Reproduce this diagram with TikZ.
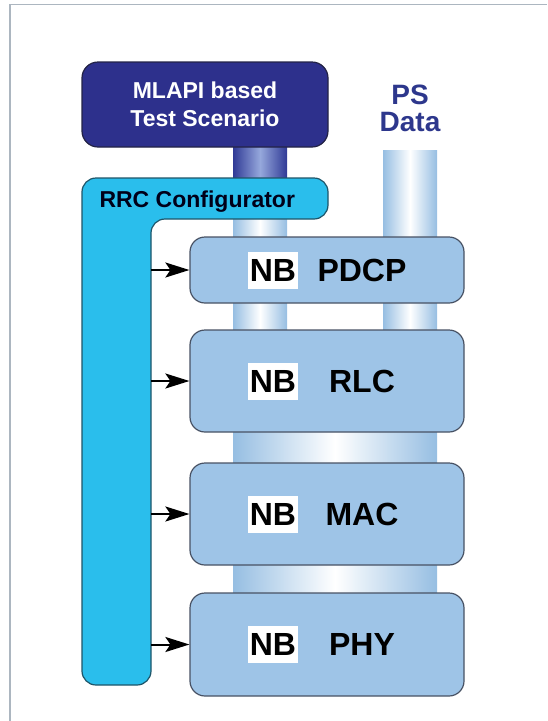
\documentclass[tikz,border=0pt]{standalone}
\usepackage{fontspec}
\setmainfont{Liberation Sans}
\usetikzlibrary{arrows.meta,positioning}

\definecolor{mlnavy}{RGB}{45,48,140}
\definecolor{mledge}{RGB}{35,35,70}
\definecolor{rrccyan}{RGB}{42,190,236}
\definecolor{rrcedge}{RGB}{30,85,105}
\definecolor{layerblue}{RGB}{158,196,231}
\definecolor{layeredge}{RGB}{72,82,100}
\definecolor{tubeblue}{RGB}{150,190,226}
\definecolor{tubenavy}{RGB}{48,58,150}
\definecolor{tubemid}{RGB}{150,168,220}
\definecolor{psblue}{RGB}{45,55,140}
\definecolor{framegray}{RGB}{172,182,192}

\begin{document}
\begin{tikzpicture}[x=1pt, y=-1pt,
  every node/.style={font=\bfseries},
  layer/.style={draw=layeredge, line width=1.2pt, fill=layerblue, rounded corners=15pt, minimum width=274pt},
  nbtag/.style={fill=white, inner xsep=2pt, minimum height=37pt, font=\bfseries\fontsize{32}{36}\selectfont},
  lbl/.style={font=\bfseries\fontsize{32}{36}\selectfont},
  tube/.style={left color=tubeblue, right color=tubeblue, middle color=white},
  conf/.style={-{Stealth[length=24pt,width=15pt,inset=5pt]}, line width=2pt}]
  \useasboundingbox (0,0) rectangle (547,721);
  \draw[framegray, line width=1.8pt] (10,721) -- (10,4.5) -- (547,4.5);
  % data pipes behind the stack
  \shade[left color=tubenavy, right color=tubenavy, middle color=tubemid] (233,140) rectangle (287,185);
  \shade[tube] (233,200) rectangle (287,340);
  \shade[tube] (383,150) rectangle (437,340);
  \shade[tube] (233,425) rectangle (437,470);
  \shade[tube] (233,558) rectangle (437,600);
  \node[draw=mledge, line width=1.2pt, fill=mlnavy, text=white, rounded corners=16pt,
        minimum width=246pt, minimum height=85pt, align=center,
        font=\bfseries\fontsize{23}{28}\selectfont] (mlapi) at (205,104.5) {MLAPI based\\Test Scenario};
  \node[text=psblue, align=center, font=\bfseries\fontsize{28}{27}\selectfont] (psdata) at (410,108.5) {PS\\Data};
  % RRC configurator
  \draw[draw=rrcedge, line width=1.2pt, fill=rrccyan, rounded corners=14pt]
    (82,685) -- (82,178) -- (328,178) -- (328,219) -- (151,219) -- (151,685) -- cycle;
  \coordinate (barR) at (151,219);
  \node[anchor=base west, text=black!90!blue, font=\bfseries\fontsize{23}{28}\selectfont] (rrc) at (96,207) {RRC Configurator};
  \foreach \n/\t/\y/\h in {pdcp/PDCP/270/66, rlc/RLC/381/102, mac/MAC/514/102, phy/PHY/644.5/103} {
    \node[layer, minimum height=\h pt] (\n) at (327,\y) {};
    \node[nbtag] (\n nb) at ([xshift=-54pt]\n.center) {NB};
    \node[lbl] (\n lbl) at ([xshift=35pt]\n.center) {\t};
    \draw[conf] (\n.west -| barR) -- (\n.west);
  }
\end{tikzpicture}
\end{document}
